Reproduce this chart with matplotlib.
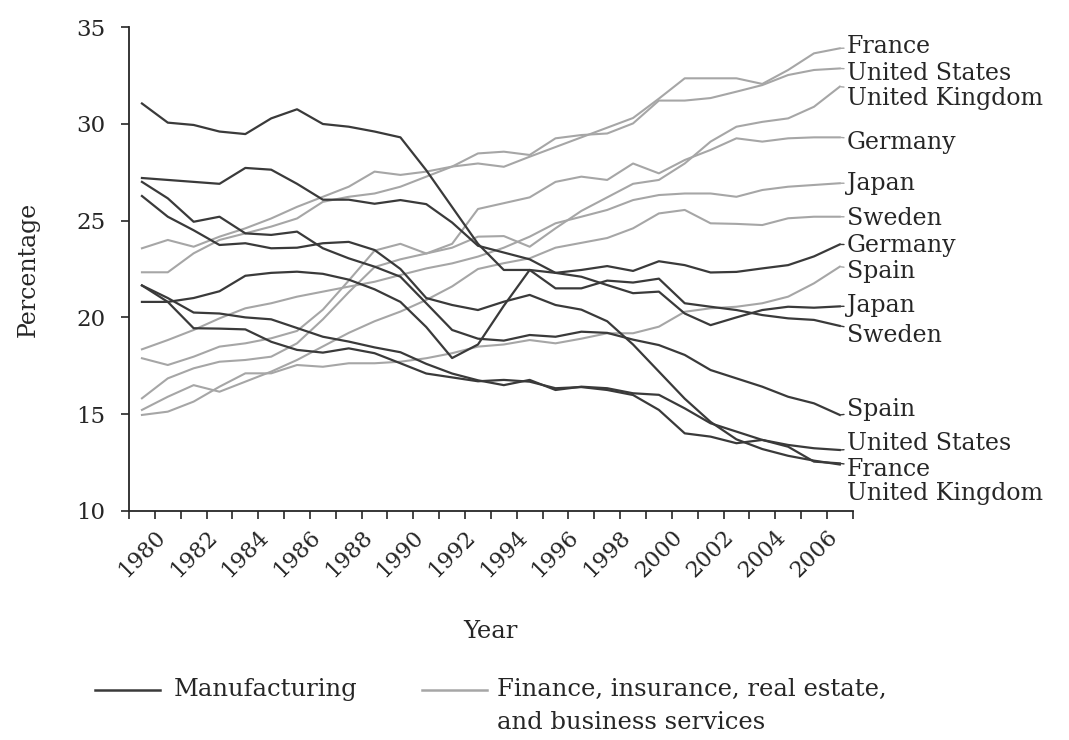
import numpy as np
import matplotlib
matplotlib.use("Agg")
import matplotlib.pyplot as plt
from matplotlib.lines import Line2D

plt.rcParams['font.family'] = ['DejaVu Serif']

years = np.arange(1980, 2008)

# manufacturing, share of value added (%)
germany_m = [31.05, 30.06, 29.94, 29.6, 29.47, 30.28, 30.75, 29.99, 29.85, 29.6,
             29.3, 27.6, 25.7, 23.8, 22.45, 22.45, 22.3, 22.45, 22.65, 22.4,
             22.9, 22.7, 22.32, 22.35, 22.53, 22.7, 23.15, 23.77]
japan_m = [27.2, 27.1, 27.0, 26.9, 27.72, 27.63, 26.9, 26.08, 26.08, 25.87,
           26.06, 25.85, 24.9, 23.7, 23.35, 23.0, 22.3, 22.1, 21.67, 21.25,
           21.33, 20.2, 19.6, 20.0, 20.38, 20.55, 20.5, 20.57]
spain_m = [27.0, 26.15, 24.94, 25.2, 24.34, 24.26, 24.43, 23.57, 23.05, 22.62,
           22.1, 20.73, 19.35, 18.9, 18.8, 19.09, 19.0, 19.26, 19.2, 18.85,
           18.57, 18.06, 17.28, 16.85, 16.42, 15.9, 15.56, 14.96]
uk_m = [26.27, 25.2, 24.5, 23.74, 23.83, 23.57, 23.6, 23.83, 23.9, 23.48,
        22.5, 21.0, 20.64, 20.38, 20.81, 21.16, 20.64, 20.4, 19.8, 18.6,
        17.2, 15.8, 14.6, 13.7, 13.2, 12.85, 12.6, 12.4]
us_m = [21.65, 21.0, 20.25, 20.2, 20.0, 19.9, 19.45, 19.0, 18.75, 18.45,
        18.2, 17.6, 17.1, 16.75, 16.5, 16.77, 16.25, 16.42, 16.34, 16.08,
        16.0, 15.3, 14.53, 14.1, 13.67, 13.41, 13.24, 13.15]
france_m = [21.65, 20.8, 19.44, 19.42, 19.38, 18.74, 18.32, 18.18, 18.4, 18.15,
            17.63, 17.1, 16.9, 16.7, 16.77, 16.68, 16.34, 16.4, 16.25, 15.99,
            15.22, 14.01, 13.84, 13.5, 13.67, 13.32, 12.55, 12.46]
sweden_m = [20.8, 20.8, 21.0, 21.35, 22.15, 22.3, 22.36, 22.25, 21.95, 21.45,
            20.8, 19.5, 17.9, 18.6, 20.6, 22.45, 21.5, 21.5, 21.9, 21.8,
            22.0, 20.73, 20.55, 20.38, 20.12, 19.95, 19.87, 19.56]

# finance, insurance, real estate and business services (%)
france_f = [22.33, 22.33, 23.31, 24.0, 24.34, 24.69, 25.11, 25.97, 26.23, 26.4,
            26.75, 27.27, 27.79, 27.95, 27.78, 28.3, 28.8, 29.3, 29.8, 30.3,
            31.3, 32.35, 32.35, 32.35, 32.06, 32.78, 33.64, 33.9]
us_f = [23.57, 24.0, 23.65, 24.17, 24.6, 25.11, 25.71, 26.23, 26.75, 27.53,
        27.36, 27.53, 27.79, 28.47, 28.56, 28.39, 29.25, 29.42, 29.5, 30.02,
        31.2, 31.2, 31.33, 31.66, 32.0, 32.52, 32.78, 32.86]
uk_f = [15.82, 16.85, 17.37, 17.71, 17.8, 17.97, 18.66, 19.9, 21.3, 22.6,
        23.0, 23.3, 23.6, 24.17, 24.2, 23.65, 24.6, 25.5, 26.2, 26.9,
        27.1, 27.95, 29.08, 29.85, 30.1, 30.28, 30.88, 31.92]
germany_f = [17.89, 17.54, 17.97, 18.49, 18.66, 18.92, 19.3, 20.4, 21.9, 23.45,
             23.8, 23.3, 23.8, 25.6, 25.9, 26.2, 27.0, 27.27, 27.1, 27.95,
             27.44, 28.13, 28.65, 29.25, 29.08, 29.25, 29.3, 29.3]
japan_f = [18.35, 18.83, 19.35, 19.95, 20.47, 20.73, 21.07, 21.33, 21.59, 21.84,
           22.19, 22.53, 22.79, 23.14, 23.6, 24.17, 24.86, 25.2, 25.55, 26.06,
           26.32, 26.4, 26.4, 26.23, 26.58, 26.75, 26.84, 26.93]
sweden_f = [15.22, 15.9, 16.5, 16.16, 16.68, 17.2, 17.8, 18.5, 19.2, 19.8,
            20.3, 20.9, 21.6, 22.5, 22.8, 23.05, 23.6, 23.85, 24.1, 24.6,
            25.37, 25.55, 24.86, 24.83, 24.77, 25.12, 25.2, 25.2]
spain_f = [14.96, 15.13, 15.65, 16.42, 17.11, 17.11, 17.54, 17.45, 17.63, 17.63,
           17.71, 17.89, 18.15, 18.49, 18.6, 18.83, 18.66, 18.9, 19.18, 19.18,
           19.52, 20.29, 20.47, 20.55, 20.73, 21.07, 21.76, 22.62]

manuf = {'Germany': germany_m, 'Japan': japan_m, 'Spain': spain_m,
         'United Kingdom': uk_m, 'United States': us_m, 'France': france_m,
         'Sweden': sweden_m}
finance = {'France': france_f, 'United States': us_f, 'United Kingdom': uk_f,
           'Germany': germany_f, 'Japan': japan_f, 'Sweden': sweden_f,
           'Spain': spain_f}

# where the end labels sit (spread out so they do not collide)
fin_label_y = {'France': 33.97, 'United States': 32.62, 'United Kingdom': 31.33,
               'Germany': 29.01, 'Japan': 26.94, 'Sweden': 25.13, 'Spain': 22.35}
man_label_y = {'Germany': 23.69, 'Japan': 20.59, 'Sweden': 19.04, 'Spain': 15.22,
               'United States': 13.46, 'France': 12.12, 'United Kingdom': 10.88}

dark = '#3a3a3a'
light = '#a6a6a6'
txt = '#262626'

fig = plt.figure(figsize=(10.69, 7.40), dpi=100)
ax = fig.add_axes([0.1207, 0.3095, 0.677, 0.654])

for name, vals in finance.items():
    ax.plot(years, vals, color=light, lw=1.5, zorder=2)
for name, vals in manuf.items():
    ax.plot(years, vals, color=dark, lw=1.6, zorder=3)

for series, labels, col in [(finance, fin_label_y, light), (manuf, man_label_y, dark)]:
    for name, ly in labels.items():
        end = series[name][-1]
        arrow = dict(arrowstyle='-', color=col, lw=1.0, shrinkA=0, shrinkB=1)
        if abs(end - ly) > 1.2:
            arrow = None
        ax.annotate(name, xy=(years[-1], end), xytext=(years[-1] + 0.27, ly),
                    ha='left', va='center', fontsize=17, color=txt,
                    annotation_clip=False, arrowprops=arrow)

ax.set_xlim(1979.5, 2007.5)
ax.set_ylim(10, 35)
ax.set_yticks(np.arange(10, 36, 5))
ax.set_xticks(np.arange(1979.5, 2008, 1))
ax.set_xticklabels([])
ax.set_xticks(np.arange(1980, 2008, 2), minor=True)
ax.set_xticklabels([str(y) for y in range(1980, 2008, 2)], minor=True,
                   rotation=45, ha='center', va='top')
ax.tick_params(axis='x', which='major', direction='out', length=6, width=1.2, color=txt)
ax.tick_params(axis='x', which='minor', length=0, pad=11, labelsize=16, labelcolor=txt)
ax.tick_params(axis='y', direction='out', length=6, width=1.2, color=txt,
               labelsize=16.5, labelcolor=txt, pad=11)

for s in ['top', 'right']:
    ax.spines[s].set_visible(False)
for s in ['left', 'bottom']:
    ax.spines[s].set_linewidth(1.3)
    ax.spines[s].set_color(txt)

ax.set_ylabel('Percentage', fontsize=17, color=txt)
ax.yaxis.set_label_coords(-0.124, 0.5)
ax.set_xlabel('Year', fontsize=17.5, color=txt)
ax.xaxis.set_label_coords(0.5, -0.225)

# legend drawn by hand so the grey key sits on the first line of its text
fig.add_artist(Line2D([0.089, 0.150], [0.068, 0.068], color=dark, lw=1.8))
fig.text(0.163, 0.068, 'Manufacturing', fontsize=17.5, va='center', color=txt)
fig.add_artist(Line2D([0.395, 0.456], [0.068, 0.068], color=light, lw=1.8))
fig.text(0.465, 0.068, 'Finance, insurance, real estate,', fontsize=17.5, va='center', color=txt)
fig.text(0.465, 0.024, 'and business services', fontsize=17.5, va='center', color=txt)

fig.savefig('out.png', dpi=100)
